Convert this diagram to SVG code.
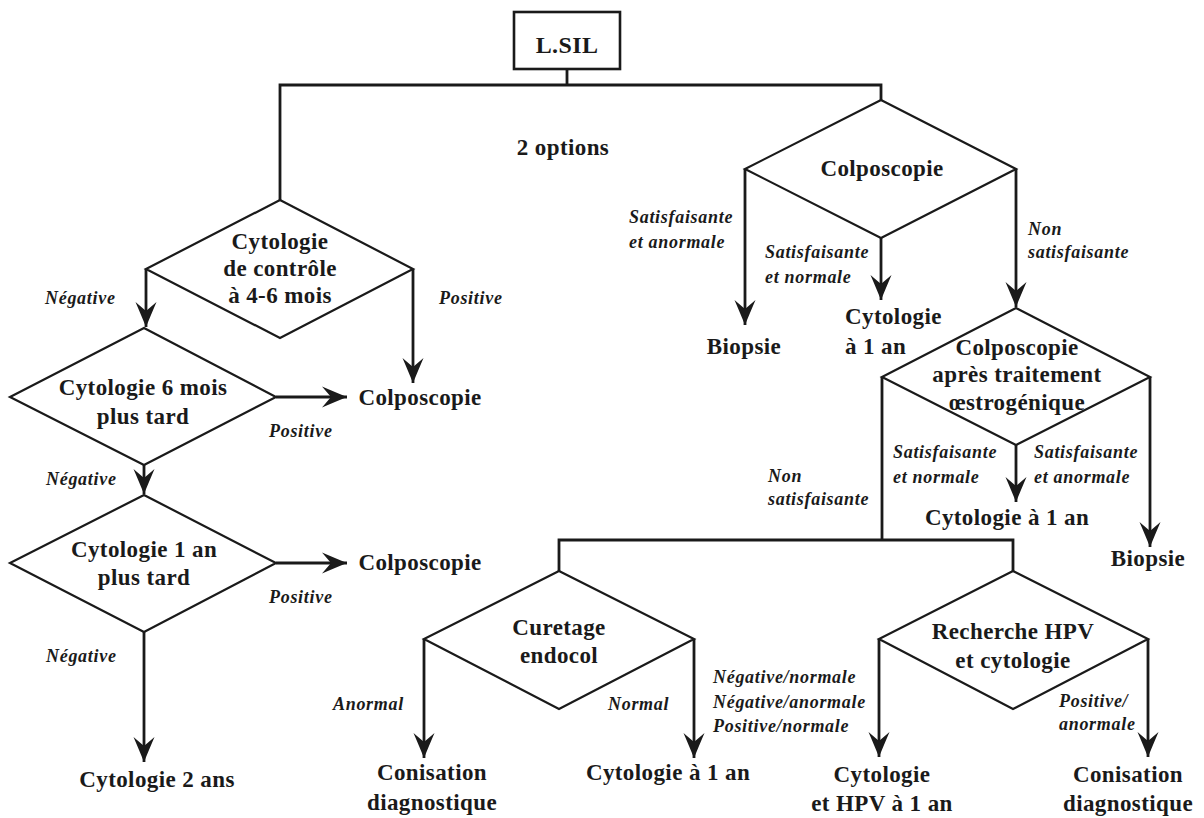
<svg xmlns="http://www.w3.org/2000/svg" width="1204" height="818" viewBox="0 0 1204 818">
<style>
.bg{fill:#fff}
.box{fill:#fff;stroke:#1a1a1a;stroke-width:2.6}
.dia{fill:none;stroke:#1a1a1a;stroke-width:2.2;stroke-linejoin:miter}
.ln{fill:none;stroke:#1a1a1a;stroke-width:2.8}
.ar{fill:none;stroke:#1a1a1a;stroke-width:2.8;marker-end:url(#ah)}
.t{font-family:"Liberation Serif","Times New Roman",serif;font-weight:bold;font-size:23px;fill:#1a1a1a;text-anchor:middle;letter-spacing:0.4px}
.s{text-anchor:start}
.i{font-family:"Liberation Serif","Times New Roman",serif;font-weight:bold;font-style:italic;font-size:18px;fill:#1a1a1a;letter-spacing:0.7px}
</style>
<defs>
<marker id="ah" markerUnits="userSpaceOnUse" viewBox="0 0 25 22" refX="25" refY="11" markerWidth="25" markerHeight="22" orient="auto">
<path d="M0,0.5 Q14,6.5 25,11 Q14,15.5 0,21.5 L9,11 Z" fill="#1a1a1a"/>
</marker>
</defs>
<rect class="bg" x="0" y="0" width="1204" height="818"/>

<g id="connectors">
<path class="ln" d="M567,69 V85 M280,200 V85 H881 V100"/>
<path class="ar" d="M146,269 V327"/>
<path class="ar" d="M413,269 V383"/>
<path class="ar" d="M276,397 H347"/>
<path class="ar" d="M144,465 V494"/>
<path class="ar" d="M276,563 H347"/>
<path class="ar" d="M144,632 V762"/>
<path class="ar" d="M745,169 V325"/>
<path class="ar" d="M881,238 V300"/>
<path class="ar" d="M1016,169 V307"/>
<path class="ar" d="M1016,445 V502"/>
<path class="ar" d="M1150,377 V547"/>
<path class="ln" d="M882,377 V540 M559,571 V540 H1013 V571"/>
<path class="ar" d="M424,639 V758"/>
<path class="ar" d="M694,639 V758"/>
<path class="ar" d="M879,639 V757"/>
<path class="ar" d="M1148,639 V757"/>
</g>

<g id="lsil">
<rect class="box" x="514" y="12" width="106" height="57"/>
<text class="t" x="567" y="53" style="font-size:24px">L.SIL</text>
</g>
<g id="options"><text class="t" x="563" y="155">2 options</text></g>

<g id="cyto-controle">
<polygon class="dia" points="280,200 413,269 280,338 146,269"/>
<text class="t" x="280" y="249">Cytologie</text>
<text class="t" x="280" y="276">de contrôle</text>
<text class="t" x="280" y="303">à 4-6 mois</text>
</g>
<g id="lbl-neg1"><text class="i" x="45" y="304">Négative</text></g>
<g id="lbl-pos1"><text class="i" x="439" y="304">Positive</text></g>
<g id="colpo1"><text class="t" x="420" y="405">Colposcopie</text></g>

<g id="cyto-6mois">
<polygon class="dia" points="144,328 276,397 144,465 10,397"/>
<text class="t" x="143" y="395">Cytologie 6 mois</text>
<text class="t" x="143" y="424">plus tard</text>
</g>
<g id="lbl-pos2"><text class="i" x="269" y="437">Positive</text></g>
<g id="lbl-neg2"><text class="i" x="46" y="485">Négative</text></g>

<g id="cyto-1an">
<polygon class="dia" points="144,495 276,563 144,632 10,563"/>
<text class="t" x="144" y="557">Cytologie 1 an</text>
<text class="t" x="144" y="585">plus tard</text>
</g>
<g id="colpo2"><text class="t" x="420" y="570">Colposcopie</text></g>
<g id="lbl-pos3"><text class="i" x="269" y="603">Positive</text></g>
<g id="lbl-neg3"><text class="i" x="46" y="662">Négative</text></g>
<g id="cyto-2ans"><text class="t" x="157" y="787">Cytologie 2 ans</text></g>

<g id="colposcopie">
<polygon class="dia" points="881,100 1016,169 881,238 745,169"/>
<text class="t" x="882" y="176">Colposcopie</text>
</g>
<g id="lbl-sat-anorm1"><text class="i" x="629" y="223">Satisfaisante</text><text class="i" x="629" y="248">et anormale</text></g>
<g id="lbl-sat-norm1"><text class="i" x="765" y="258">Satisfaisante</text><text class="i" x="765" y="283">et normale</text></g>
<g id="lbl-nonsat1"><text class="i" x="1028" y="235">Non</text><text class="i" x="1028" y="258">satisfaisante</text></g>
<g id="biopsie1"><text class="t" x="744" y="354">Biopsie</text></g>
<g id="cyto-1an-a"><text class="t s" x="845" y="324">Cytologie</text><text class="t s" x="845" y="354">à 1 an</text></g>

<g id="colpo-oestro">
<polygon class="dia" points="1016,308 1150,377 1016,445 882,377"/>
<text class="t" x="1017" y="355">Colposcopie</text>
<text class="t" x="1017" y="382">après traitement</text>
<text class="t" x="1017" y="410">œstrogénique</text>
</g>
<g id="lbl-nonsat2"><text class="i" x="768" y="482">Non</text><text class="i" x="768" y="505">satisfaisante</text></g>
<g id="lbl-sat-norm2"><text class="i" x="893" y="458">Satisfaisante</text><text class="i" x="893" y="483">et normale</text></g>
<g id="lbl-sat-anorm2"><text class="i" x="1034" y="458">Satisfaisante</text><text class="i" x="1034" y="483">et anormale</text></g>
<g id="cyto-1an-b"><text class="t" x="1007" y="525">Cytologie à 1 an</text></g>
<g id="biopsie2"><text class="t" x="1148" y="566">Biopsie</text></g>

<g id="curetage">
<polygon class="dia" points="559,571 694,639 559,709 424,639"/>
<text class="t" x="559" y="635">Curetage</text>
<text class="t" x="559" y="663">endocol</text>
</g>
<g id="lbl-anormal"><text class="i" x="333" y="710">Anormal</text></g>
<g id="lbl-normal"><text class="i" x="608" y="710">Normal</text></g>
<g id="conisation1"><text class="t" x="432" y="780">Conisation</text><text class="t" x="432" y="810">diagnostique</text></g>
<g id="cyto-1an-c"><text class="t" x="668" y="780">Cytologie à 1 an</text></g>

<g id="hpv">
<polygon class="dia" points="1013,571 1148,639 1013,709 879,639"/>
<text class="t" x="1013" y="639">Recherche HPV</text>
<text class="t" x="1013" y="668">et cytologie</text>
</g>
<g id="lbl-hpv-neg"><text class="i" x="713" y="683">Négative/normale</text><text class="i" x="713" y="708">Négative/anormale</text><text class="i" x="713" y="732">Positive/normale</text></g>
<g id="lbl-hpv-pos"><text class="i" x="1059" y="707">Positive/</text><text class="i" x="1059" y="730">anormale</text></g>
<g id="cyto-hpv"><text class="t" x="882" y="782">Cytologie</text><text class="t" x="882" y="811">et HPV à 1 an</text></g>
<g id="conisation2"><text class="t" x="1128" y="782">Conisation</text><text class="t" x="1128" y="811">diagnostique</text></g>
</svg>
